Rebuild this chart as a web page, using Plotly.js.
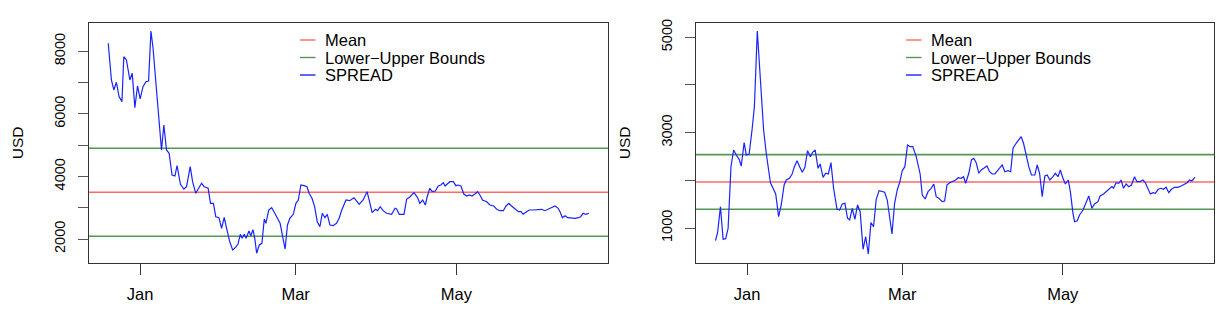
<!DOCTYPE html>
<html>
<head>
<meta charset="utf-8">
<script src="https://cdn.plot.ly/plotly-3.0.1.min.js"></script>
<style>html,body{margin:0;padding:0;background:#fff;}#chart{width:1226px;height:314px;}</style>
</head>
<body>
<div id="chart"></div>
<script>
// ---- data (days counted from 2017-01-01) ----
const leftDays = [-12.1,-10.9,-10.0,-9.0,-8.0,-6.9,-6.2,-5.2,-3.9,-3.0,-2.0,-1.0,0.0,1.1,2.2,3.2,4.1,4.9,6.0,7.0,8.1,9.0,10.0,11.0,12.1,13.2,14.0,15.3,16.6,17.6,19.0,19.9,21.1,22.2,23.3,24.3,25.8,26.7,27.8,28.7,29.9,30.9,31.9,32.8,34.0,35.1,36.1,37.1,38.0,38.7,39.5,40.2,41.3,42.0,42.8,43.5,44.2,45.2,46.2,47.1,47.7,48.8,49.9,51.1,52.1,53.1,54.2,55.0,55.9,56.8,58.1,59.1,60.0,61.0,62.2,63.3,64.1,65.2,66.2,67.2,68.2,69.1,70.1,71.0,72.0,73.2,74.5,75.5,76.5,78.1,79.5,81.1,82.1,83.1,84.6,86.1,87.2,88.0,89.3,90.1,91.1,92.2,93.5,95.4,96.7,97.3,98.3,100.1,101.1,102.4,103.9,105.2,106.1,107.2,108.2,108.9,109.9,110.8,112.0,113.1,114.1,115.0,115.7,116.5,117.5,118.8,119.8,120.7,121.7,122.8,123.9,124.9,125.9,127.0,128.0,128.9,129.9,131.5,132.7,134.2,135.3,136.5,137.8,138.8,139.9,140.9,142.2,143.5,144.5,145.3,146.6,147.6,149.1,151.0,152.3,153.6,154.8,156.1,157.4,158.6,159.3,160.2,161.2,162.2,163.7,165.0,166.2,167.1,168.1,169.0,170.3];
const leftSpread = [8257,7083,6764,7010,6550,6390,7828,7723,7083,7298,6198,6891,6476,6870,7029,7051,8650,8097,6978,5964,4845,5645,4845,4740,4046,4014,4343,3749,3598,3672,4311,3832,3461,3621,3781,3672,3621,3141,3141,2713,2681,2342,2694,2342,1914,1648,1722,1831,2150,2022,2150,2022,2256,2106,2297,2022,1543,1808,1862,2639,2502,2927,3001,2822,2681,2502,2022,1680,2448,2662,2790,3141,3247,3726,3704,3672,3461,3301,3033,2553,2393,2822,2681,2790,2448,2425,2502,2662,2927,3247,3224,3320,3215,3109,3247,3512,3141,2841,2950,2905,3033,2905,2822,2790,2981,2959,2790,2790,3269,3352,3480,3333,3141,3247,3087,3352,3621,3512,3535,3694,3726,3800,3694,3758,3832,3832,3704,3726,3694,3439,3375,3407,3375,3439,3512,3407,3247,3192,3087,3055,2950,2905,2905,3055,3141,3055,2950,2873,2873,2790,2873,2927,2927,2927,2950,2905,2950,3013,3055,2981,2873,2681,2745,2681,2662,2662,2681,2713,2822,2790,2822];
const leftMean = 3495;
const leftBounds = [2088, 4902];

const rightDays = [-12.0,-11.2,-10.1,-9.1,-8.1,-7.2,-6.1,-5.1,-4.1,-3.0,-2.2,-1.1,-0.3,0.8,1.9,2.8,3.9,5.1,6.3,7.3,8.9,9.9,10.9,12.0,13.0,14.1,14.9,16.1,17.1,18.0,19.0,20.0,21.0,22.0,23.0,24.1,24.9,25.9,27.0,27.8,28.9,29.9,30.9,31.9,32.9,34.2,35.2,36.2,37.2,38.2,39.0,40.0,41.0,42.0,43.0,44.1,45.1,46.1,47.1,48.1,49.1,50.2,51.3,52.3,53.3,54.2,55.1,56.1,57.1,58.1,59.0,60.0,61.0,62.0,63.0,64.3,65.8,66.6,67.7,68.8,70.0,71.0,71.9,72.9,74.2,75.1,76.0,77.0,78.0,79.3,80.3,81.4,82.3,83.1,84.3,85.3,86.2,87.1,88.1,89.0,90.0,91.2,92.2,93.2,94.2,95.5,97.0,98.0,99.2,100.2,101.1,102.3,103.3,104.2,105.1,106.1,107.1,108.1,109.4,110.3,111.2,112.2,113.2,114.1,115.1,116.3,117.2,118.2,119.1,120.1,121.0,122.1,122.9,123.9,124.5,125.5,126.4,127.7,128.9,129.9,131.1,132.1,133.4,134.2,135.5,136.5,137.8,138.7,139.3,140.3,141.3,142.2,143.1,144.1,145.1,146.1,147.3,148.2,149.2,150.5,151.4,152.5,153.3,154.3,155.2,156.3,157.3,158.3,159.3,160.3,161.3,162.5,163.8,165.0,166.3,167.3,168.2,169.1,170.2];
const rightSpread = [734,901,1447,763,776,994,2286,2636,2532,2441,2301,2790,2532,2553,3056,3545,5133,4036,3056,2567,1950,1833,1713,1237,1483,1902,2007,2042,2126,2286,2412,2286,2169,2274,2622,2496,2588,2636,2252,2343,2063,2148,2133,2370,1833,1392,1378,1504,1518,1204,1168,1413,1183,1483,1342,553,817,455,1112,1027,1602,1783,1762,1749,1587,1237,874,1518,1797,1971,2202,2286,2741,2706,2706,2496,2133,1692,1608,1762,1833,1923,1657,1623,1552,1566,1902,1950,1971,2007,2055,2042,2076,1938,2148,2427,2462,2370,2148,2217,2252,2301,2181,2133,2133,2217,2322,2181,2202,2181,2672,2777,2861,2916,2777,2496,2286,2112,2112,2322,2148,1657,2091,2112,2007,2076,2148,2076,2217,2042,1923,2007,1762,1308,1132,1153,1273,1378,1552,1671,1413,1504,1552,1671,1713,1762,1833,1867,1833,1950,1938,2007,1833,1923,1867,1902,2076,1971,1971,2007,1950,1797,1713,1741,1728,1812,1833,1812,1854,1741,1812,1854,1854,1881,1917,1950,2007,1986,2063];
const rightMean = 1965;
const rightBounds = [1392, 2538];

const monthTickDates = ['2017-01-01', '2017-03-01', '2017-05-01'];
const monthTickLabels = ['Jan', 'Mar', 'May'];
const leftYTicks = [2000, 3000, 4000, 5000, 6000, 7000, 8000];
const leftYLabels = ['2000', '', '4000', '', '6000', '', '8000'];
const rightYTicks = [1000, 2000, 3000, 4000, 5000];
const rightYLabels = ['1000', '', '3000', '', '5000'];
const legendLabels = ['Mean', 'Lower\u2212Upper Bounds', 'SPREAD'];

// ---- helpers ----
function toDate(d) {
  const s = new Date(Date.UTC(2017, 0, 1) + d * 86400000).toISOString();
  return s.slice(0, 10) + ' ' + s.slice(11, 19);
}
const W = 1226, H = 314;
const FONT = 'Liberation Sans, Arial, Helvetica, sans-serif';
const RED = 'rgb(255,105,105)', GREEN = 'rgb(85,150,85)', BLUE = 'rgb(25,35,255)';

const traces = [
  {x: leftDays.map(toDate), y: leftSpread, type: 'scatter', mode: 'lines', name: 'SPREAD',
   line: {color: BLUE, width: 1.2}, xaxis: 'x', yaxis: 'y', showlegend: false},
  {x: rightDays.map(toDate), y: rightSpread, type: 'scatter', mode: 'lines', name: 'SPREAD',
   line: {color: BLUE, width: 1.2}, xaxis: 'x2', yaxis: 'y2', showlegend: false}
];

function hline(yref, xref, v, color) {
  return {type: 'line', xref: xref + ' domain', yref: yref, x0: 0, x1: 1, y0: v, y1: v,
          line: {color: color, width: 1.6}, layer: 'below'};
}
const shapes = [
  hline('y', 'x', leftMean, RED), hline('y', 'x', leftBounds[0], GREEN), hline('y', 'x', leftBounds[1], GREEN),
  hline('y2', 'x2', rightMean, RED), hline('y2', 'x2', rightBounds[0], GREEN), hline('y2', 'x2', rightBounds[1], GREEN)
];
const annotations = [];
const legendColors = [RED, GREEN, BLUE];
[[300, 323], [906, 929]].forEach(function (p) {
  legendLabels.forEach(function (lab, i) {
    const yy = 40 + i * 17.5;
    shapes.push({type: 'line', xref: 'paper', yref: 'paper', x0: p[0] / W, x1: (p[0] + 15.5) / W,
                 y0: 1 - yy / H, y1: 1 - yy / H, line: {color: legendColors[i], width: 1.4}});
    annotations.push({xref: 'paper', yref: 'paper', x: p[1] / W, y: 1 - yy / H, text: lab,
                      showarrow: false, xanchor: 'left', yanchor: 'middle',
                      font: {family: FONT, size: 16.5, color: '#000'}});
  });
});

const xRange = [toDate(-19.4), toDate(177.5)];
const yDom = [51 / H, 291.3 / H];
function xAxis(dom, anchor) {
  return {domain: dom, anchor: anchor, type: 'date', range: xRange, tickmode: 'array',
          tickvals: monthTickDates, ticktext: monthTickLabels, ticks: 'outside', ticklen: 11,
          tickcolor: '#333', tickwidth: 1, showline: true, linecolor: '#333', linewidth: 1,
          mirror: true, showgrid: false, zeroline: false, ticklabelstandoff: 5,
          tickfont: {family: FONT, size: 16.5, color: '#000'}};
}
function yAxis(range, tv, tt, anchor) {
  return {domain: yDom, anchor: anchor, range: range, tickmode: 'array', tickvals: tv, ticktext: tt,
          ticks: 'outside', ticklen: 10, tickcolor: '#555', tickwidth: 1, tickangle: -90,
          showline: true, linecolor: '#333', linewidth: 1, mirror: true, showgrid: false,
          zeroline: false, ticklabelstandoff: 7,
          tickfont: {family: FONT, size: 14.5, color: '#000'},
          title: {text: 'USD', standoff: 24, font: {family: FONT, size: 15.5, color: '#000'}}};
}

const layout = {
  width: W, height: H, margin: {l: 0, r: 0, t: 0, b: 0},
  paper_bgcolor: '#fff', plot_bgcolor: '#fff', showlegend: false,
  font: {family: FONT, color: '#000'},
  xaxis: xAxis([89 / W, 608 / W], 'y'),
  yaxis: yAxis([1233, 8914], leftYTicks, leftYLabels, 'x'),
  xaxis2: xAxis([696 / W, 1214 / W], 'y2'),
  yaxis2: yAxis([266, 5306], rightYTicks, rightYLabels, 'x2'),
  shapes: shapes, annotations: annotations
};
Plotly.newPlot('chart', traces, layout, {staticPlot: true, displayModeBar: false});
</script>
</body>
</html>
